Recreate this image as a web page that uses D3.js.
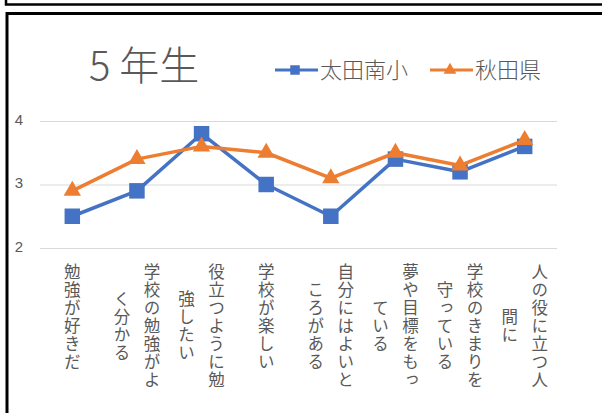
<!DOCTYPE html>
<html lang="ja">
<head>
<meta charset="UTF-8">
<title>5年生</title>
<style>
  body { margin:0; background:#fff; }
  svg { display:block; font-family:"Noto Sans CJK JP","Noto Sans",sans-serif; }
</style>
</head>
<body>
<svg id="chart" width="602" height="413"></svg>
<script src="https://d3js.org/d3.v7.min.js"></script>
<script>
// --- data ---
const categories = [
  "勉強が好きだ",
  "学校の勉強がよく分かる",
  "役立つように勉強したい",
  "学校が楽しい",
  "自分にはよいところがある",
  "夢や目標をもっている",
  "学校のきまりを守っている",
  "人の役に立つ人間に"
];
const seriesNames = ["太田南小", "秋田県"];
const otaminami = [2.5, 2.9, 3.8, 3.0, 2.5, 3.4, 3.2, 3.6];
const akitaken  = [2.9, 3.4, 3.6, 3.5, 3.1, 3.5, 3.3, 3.7];
const yTicks = [2, 3, 4];
const title = "5 年生";

const colors = ["#4472C4", "#ED7D31"];
const grey = "#595959";

const svg = d3.select("#chart");

// frames (the boxes this chart sits in)
svg.append("rect").attr("x", 6).attr("y", -20).attr("width", 620).attr("height", 24.5)
   .attr("fill", "none").attr("stroke", "#000").attr("stroke-width", 2.5);
svg.append("rect").attr("x", 7).attr("y", 13.5).attr("width", 620).attr("height", 420)
   .attr("fill", "#fff").attr("stroke", "#000").attr("stroke-width", 3);

const x = d3.scalePoint().domain(categories).range([40, 557]).padding(0.5);
const y = d3.scaleLinear().domain([2, 4]).range([248, 121]);

// y axis + gridlines
const gy = svg.append("g").attr("transform", "translate(40,0)")
  .call(d3.axisLeft(y).tickValues(yTicks).tickSize(-517).tickPadding(17).tickFormat(d3.format("d")));
gy.select(".domain").remove();
gy.selectAll(".tick line").attr("stroke", "#d9d9d9").attr("stroke-width", 1);
gy.selectAll(".tick text").attr("fill", grey).attr("dy", "0.2em").style("font-size", "15px")
  .style("font-family", "Liberation Sans, Arial, sans-serif");

// category labels, vertical, wrapped every 7 chars
const labelTop = 263, colGap = 30;
categories.forEach(c => {
  const cols = [];
  for (let i = 0; i < c.length; i += 7) cols.push(c.slice(i, i + 7));
  const cx = x(c);
  const maxLen = cols[0].length;
  const midY = labelTop + maxLen * 18 / 2;
  cols.forEach((t, k) => {
    svg.append("text")
      .attr("x", cx + (cols.length - 1) * colGap / 2 - k * colGap)
      .attr("y", midY)
      .attr("text-anchor", "middle")
      .style("writing-mode", "vertical-rl")
      .style("text-orientation", "upright")
      .style("font-size", "16.5px")
      .style("letter-spacing", "1.5px")
      .attr("fill", grey)
      .text(t);
  });
});

// series
const series = [otaminami, akitaken];
const line = d3.line().x((d, i) => x(categories[i])).y(d => y(d));
const symbols = [d3.symbol(d3.symbolSquare, 240), d3.symbol(d3.symbolTriangle, 130)];

series.forEach((vals, s) => {
  svg.append("path").datum(vals)
    .attr("d", line).attr("fill", "none")
    .attr("stroke", colors[s]).attr("stroke-width", 3.5)
    .attr("stroke-linejoin", "round");
  svg.append("g").selectAll("path").data(vals).join("path")
    .attr("transform", (d, i) => `translate(${x(categories[i])},${y(d)})`)
    .attr("d", symbols[s]).attr("fill", colors[s]);
});

// title
svg.append("text").attr("x", 89).attr("y", 80)
  .style("font-size", "40px").style("font-weight", 300).attr("fill", grey)
  .text(title);

// legend
const legendX = [275, 430];
const legendMarks = [d3.symbol(d3.symbolSquare, 90), d3.symbol(d3.symbolTriangle, 70)];
seriesNames.forEach((n, s) => {
  const g = svg.append("g").attr("transform", `translate(${legendX[s]},70)`);
  g.append("line").attr("x1", 0).attr("x2", 43)
    .attr("stroke", colors[s]).attr("stroke-width", 3);
  g.append("path").attr("transform", "translate(20,0)").attr("d", legendMarks[s]).attr("fill", colors[s]);
  g.append("text").attr("x", 45).attr("y", 0).attr("dy", "0.36em")
    .style("font-size", "22px").style("font-weight", 300).attr("fill", grey)
    .text(n);
});
</script>
</body>
</html>
